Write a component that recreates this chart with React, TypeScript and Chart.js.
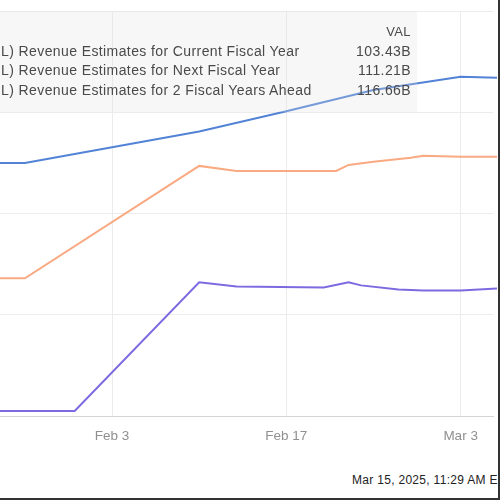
import React, { useEffect, useRef } from "react";
import { Chart, registerables } from "chart.js";

Chart.register(...registerables);

// ---- data (in the chart's hidden y units) ----
const currentFYDates = ["2025-01-20", "2025-01-27", "2025-02-10", "2025-02-17", "2025-02-24", "2025-03-03", "2025-03-06"];
const currentFYValues = [2.5, 2.5, 2.81, 3.01, 3.22, 3.35, 3.34];

const nextFYDates = ["2025-01-20", "2025-01-27", "2025-02-10", "2025-02-13", "2025-02-21", "2025-02-22", "2025-02-24", "2025-02-27", "2025-02-28", "2025-03-03", "2025-03-06"];
const nextFYValues = [1.36, 1.36, 2.47, 2.42, 2.42, 2.48, 2.51, 2.55, 2.57, 2.56, 2.56];

const twoFYDates = ["2025-01-20", "2025-01-31", "2025-02-10", "2025-02-13", "2025-02-20", "2025-02-22", "2025-02-23", "2025-02-26", "2025-02-28", "2025-03-03", "2025-03-06"];
const twoFYValues = [0.05, 0.05, 1.32, 1.28, 1.27, 1.32, 1.29, 1.25, 1.24, 1.24, 1.26];

const seriesLabels = [
  "L) Revenue Estimates for Current Fiscal Year",
  "L) Revenue Estimates for Next Fiscal Year",
  "L) Revenue Estimates for 2 Fiscal Years Ahead",
];
const seriesLatest = ["103.43B", "111.21B", "116.66B"];
const seriesColors = ["#5283d6", "#f9aa82", "#7c6be0"];

const xTickDates = ["2025-02-03", "2025-02-17", "2025-03-03"];
const xViewStart = "2025-01-25";
const xViewEndDays = 63.6;
const yTicks = [0, 1, 2, 3, 4];
const timestamp = "Mar 15, 2025, 11:29 AM EDT";

const MONTHS = ["Jan", "Feb", "Mar", "Apr", "May", "Jun", "Jul", "Aug", "Sep", "Oct", "Nov", "Dec"];
const BASE = Date.UTC(2025, 0, 1);
const toDay = (s: string) => {
  const [y, m, d] = s.split("-").map(Number);
  return (Date.UTC(y, m - 1, d) - BASE) / 86400000;
};
const fmtDay = (n: number) => {
  const dt = new Date(BASE + Math.round(n) * 86400000);
  return `${MONTHS[dt.getUTCMonth()]} ${dt.getUTCDate()}`;
};
const pts = (dates: string[], vals: number[]) => dates.map((d, i) => ({ x: toDay(d), y: vals[i] }));

const FONT = '"Liberation Sans", Arial, sans-serif';

export default function App() {
  const ref = useRef<HTMLCanvasElement | null>(null);

  useEffect(() => {
    const canvas = ref.current;
    if (!canvas) return;
    const mk = (label: string, data: any[], color: string) => ({
      label,
      data,
      borderColor: color,
      backgroundColor: color,
      borderWidth: 2,
      pointRadius: 0,
      tension: 0,
      fill: false,
      clip: { left: 0, top: 4, right: 4, bottom: 4 },
    });
    const chart = new Chart(canvas, {
      type: "line",
      data: {
        datasets: [
          mk(seriesLabels[0], pts(currentFYDates, currentFYValues), seriesColors[0]),
          mk(seriesLabels[1], pts(nextFYDates, nextFYValues), seriesColors[1]),
          mk(seriesLabels[2], pts(twoFYDates, twoFYValues), seriesColors[2]),
        ],
      },
      options: {
        animation: false,
        responsive: false,
        devicePixelRatio: 1,
        layout: { padding: { left: 0, right: 4, top: 11, bottom: 0 } },
        plugins: { legend: { display: false }, tooltip: { enabled: false } },
        scales: {
          x: {
            type: "linear",
            min: toDay(xViewStart),
            max: xViewEndDays,
            afterBuildTicks: (s: any) => {
              s.ticks = xTickDates.map((d) => ({ value: toDay(d) }));
            },
            afterFit: (s: any) => {
              s.height = 44;
            },
            grid: { color: "#ececec", drawTicks: false, lineWidth: 1 },
            border: { color: "#d4d4d4", width: 1 },
            ticks: {
              padding: 12,
              color: "#8f8f8f",
              font: { family: FONT, size: 13.5 },
              maxRotation: 0,
              autoSkip: false,
              callback: (v: any) => fmtDay(Number(v)),
            },
          },
          y: {
            min: 0,
            max: 4,
            afterBuildTicks: (s: any) => {
              s.ticks = yTicks.map((v) => ({ value: v }));
            },
            grid: { color: "#ececec", drawTicks: false, lineWidth: 1 },
            border: { display: false },
            ticks: { display: false },
          },
        },
      },
    });
    return () => chart.destroy();
  }, []);

  const textStyle = {
    position: "absolute" as const,
    fontSize: 14,
    color: "#4a4a4a",
    whiteSpace: "nowrap" as const,
    lineHeight: "19px",
    letterSpacing: "0.4px",
  };

  return (
    <div
      style={{
        position: "fixed",
        left: 0,
        top: 0,
        width: 500,
        height: 500,
        overflow: "hidden",
        background: "#fff",
        boxSizing: "border-box",
        borderRight: "2px solid #333",
        borderBottom: "2px solid #333",
        fontFamily: FONT,
      }}
    >
      <canvas ref={ref} width={497} height={460} style={{ position: "absolute", left: 0, top: 0, width: 497, height: 460 }} />
      <div
        style={{
          position: "absolute",
          left: 0,
          top: 11,
          width: 417,
          height: 101,
          background: "rgba(225,225,225,0.25)",
        }}
      />
      <div style={{ ...textStyle, right: 500 - 413, top: 22, fontSize: 13 }}>VAL</div>
      {seriesLabels.map((l, i) => (
        <React.Fragment key={l}>
          <div style={{ ...textStyle, left: 1, top: 42 + i * 19.3 }}>{l}</div>
          <div style={{ ...textStyle, right: 500 - 413, top: 42 + i * 19.3 }}>{seriesLatest[i]}</div>
        </React.Fragment>
      ))}
      <div
        style={{
          position: "absolute",
          left: 352,
          top: 472,
          fontSize: 12,
          color: "#222",
          whiteSpace: "nowrap",
          lineHeight: "16px",
          letterSpacing: "0.3px",
        }}
      >
        {timestamp}
      </div>
    </div>
  );
}
